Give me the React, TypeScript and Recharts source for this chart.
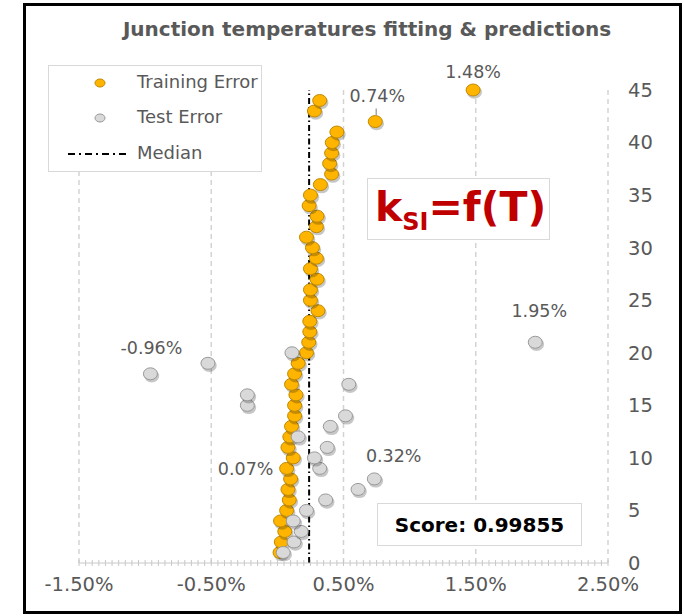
import React from "react";
import { ScatterChart, Scatter, XAxis, YAxis, ReferenceLine } from "recharts";

// error (%) per sample, sample index = position + 1
const trainingErrors = [
  0.02, 0.03, 0.056, 0.024, 0.07, 0.09, 0.08, 0.1, 0.07, 0.12,
  0.08, 0.094, 0.107, 0.13, 0.13, 0.14, 0.107, 0.13, 0.157, 0.22,
  0.237, 0.245, 0.245, 0.307, 0.25, 0.25, 0.3, 0.25, 0.295, 0.265,
  0.22, 0.295, 0.3, 0.24, 0.25, 0.325, 0.41, 0.395, 0.41, 0.415,
  0.45, 0.74, 0.28, 0.32, 1.48,
];
const testErrors = [
  0.044, 0.126, 0.18, 0.12, 0.22, 0.365, 0.61, 0.733, 0.32, 0.28,
  0.377, 0.157, 0.4, 0.515, -0.227, -0.227, 0.54, -0.96, -0.525, 0.11,
  1.95,
];
const medianError = 0.24;
const majorTicks = [-1.5, -0.5, 0.5, 1.5, 2.5];
const yTicks = [0, 5, 10, 15, 20, 25, 30, 35, 40, 45];
const score = "0.99855";

const minorTicks = Array.from({ length: 81 }, (_, i) => Math.round((-1.5 + i * 0.05) * 100) / 100);

const trainData = trainingErrors.map((e, i) => ({ x: e, y: i + 1 }));
const testData = testErrors.map((e, i) => ({ x: e, y: i + 1 }));

const GRAY_TEXT = "#595959";
const FONT = "'DejaVu Sans', sans-serif";

// data labels shown on a few points (keyed by sample index)
const LABELS: Record<string, Record<number, { dx: number; dy: number; leader?: boolean }>> = {
  train: { 45: { dx: 0, dy: -18 }, 42: { dx: 2, dy: -26, leader: true }, 9: { dx: -41, dy: 1 } },
  test: { 21: { dx: 4, dy: -31 }, 18: { dx: 1, dy: -26 }, 9: { dx: 74, dy: -12 } },
};

const fmtPct = (v: number) => `${v.toFixed(2)}%`;

function makeMarker(series: "train" | "test") {
  const fill = series === "train" ? "#FFB400" : "#D9D9D9";
  const stroke = series === "train" ? "#C08A00" : "#999999";
  return (props: any) => {
    const { cx, cy, payload } = props;
    const lab = LABELS[series][payload.y];
    return (
      <g>
        <ellipse cx={cx + 1.3} cy={cy + 2.2} rx={7.5} ry={6.5} fill="#000" opacity={0.22} />
        <ellipse cx={cx} cy={cy} rx={7} ry={6} fill={fill} stroke={stroke} strokeWidth={1} />
        {lab && lab.leader && (
          <line x1={cx + 1} y1={cy - 13} x2={cx + 1} y2={cy - 6} stroke="#a6a6a6" strokeWidth={1.5} />
        )}
        {lab && (
          <text
            x={cx + lab.dx}
            y={cy + lab.dy}
            textAnchor="middle"
            dominantBaseline="central"
            fontFamily={FONT}
            fontSize={17.5}
            fill={GRAY_TEXT}
          >
            {fmtPct(payload.x)}
          </text>
        )}
      </g>
    );
  };
}

const XTick = (props: any) => {
  const { x, y, payload } = props;
  const major = majorTicks.some((m) => Math.abs(m - payload.value) < 1e-6);
  return (
    <g>
      <line x1={x} x2={x} y1={y - 3} y2={y + 3} stroke="#c8c8c8" strokeWidth={1} />
      {major && (
        <text
          x={x}
          y={y + 21}
          textAnchor="middle"
          dominantBaseline="central"
          fontFamily={FONT}
          fontSize={19.5}
          fill={GRAY_TEXT}
        >
          {fmtPct(payload.value)}
        </text>
      )}
    </g>
  );
};

function LegendBox() {
  const row = { position: "absolute" as const, left: 88, fontSize: 18, color: GRAY_TEXT, lineHeight: "22px" };
  return (
    <div
      style={{
        position: "absolute",
        left: 48,
        top: 65,
        width: 212,
        height: 105,
        border: "1px solid #d9d9d9",
        background: "#fff",
        fontFamily: FONT,
      }}
    >
      <svg width={212} height={105} style={{ position: "absolute", left: 0, top: 0 }}>
        <ellipse cx={51} cy={17} rx={5} ry={4} fill="#FFB400" stroke="#C08A00" />
        <ellipse cx={51} cy={52} rx={5} ry={4} fill="#D9D9D9" stroke="#999999" />
        <line x1={19} x2={80} y1={88} y2={88} stroke="#000" strokeWidth={2} strokeDasharray="7 4 2 4" />
      </svg>
      <div style={{ ...row, top: 5 }}>Training Error</div>
      <div style={{ ...row, top: 40 }}>Test Error</div>
      <div style={{ ...row, top: 76 }}>Median</div>
    </div>
  );
}

export default function App() {
  return (
    <div style={{ position: "absolute", left: 0, top: 0, width: 684, height: 616, background: "#fff" }}>
      <div
        style={{
          position: "absolute",
          left: 23,
          top: 3,
          width: 653,
          height: 605,
          border: "3px solid #000",
        }}
      />
      <div
        style={{
          position: "absolute",
          left: 67,
          width: 600,
          top: 17,
          textAlign: "center",
          fontFamily: FONT,
          fontWeight: "bold",
          fontSize: 20,
          color: GRAY_TEXT,
        }}
      >
        Junction temperatures fitting &amp; predictions
      </div>
      <div style={{ position: "absolute", left: 0, top: 0 }}>
        <ScatterChart width={684} height={616} margin={{ top: 90, right: 26, bottom: 23, left: 79 }}>
          {majorTicks.map((t) => (
            <ReferenceLine key={t} x={t} stroke="#d3d3d3" strokeWidth={1.5} strokeDasharray="5 4" />
          ))}
          <XAxis
            type="number"
            dataKey="x"
            domain={[-1.5, 2.5]}
            ticks={minorTicks}
            interval={0}
            tick={<XTick />}
            tickLine={false}
            tickSize={0}
            tickMargin={0}
            height={30}
            axisLine={{ stroke: "#c8c8c8" }}
          />
          <YAxis
            type="number"
            dataKey="y"
            orientation="right"
            domain={[0, 45]}
            ticks={yTicks}
            interval={0}
            axisLine={false}
            tickLine={false}
            tickSize={0}
            tickMargin={20}
            width={50}
            tick={{ fontFamily: FONT, fontSize: 19.5, fill: GRAY_TEXT, textAnchor: "start" }}
          />
          <ReferenceLine x={medianError} stroke="#000" strokeWidth={2} strokeDasharray="6 3 1.5 3" />
          <Scatter name="Training Error" data={trainData} shape={makeMarker("train")} isAnimationActive={false} />
          <Scatter name="Test Error" data={testData} shape={makeMarker("test")} isAnimationActive={false} />
        </ScatterChart>
      </div>
      <LegendBox />
      <div
        style={{
          position: "absolute",
          left: 367,
          top: 178,
          width: 181,
          height: 60,
          border: "1px solid #d9d9d9",
          background: "#fff",
          fontFamily: FONT,
          fontWeight: "bold",
          color: "#C00000",
          whiteSpace: "nowrap",
        }}
      >
        <span style={{ position: "absolute", left: 7, top: 3, fontSize: 41, lineHeight: "50px" }}>
          k<span style={{ fontSize: 24, verticalAlign: -9 }}>SI</span>=f(T)
        </span>
      </div>
      <div
        style={{
          position: "absolute",
          left: 377,
          top: 503,
          width: 203,
          height: 41,
          border: "1px solid #d9d9d9",
          background: "#fff",
          fontFamily: FONT,
          fontWeight: "bold",
          fontSize: 20,
          color: "#000",
          display: "flex",
          alignItems: "center",
          justifyContent: "center",
        }}
      >
        Score: {score}
      </div>
    </div>
  );
}
